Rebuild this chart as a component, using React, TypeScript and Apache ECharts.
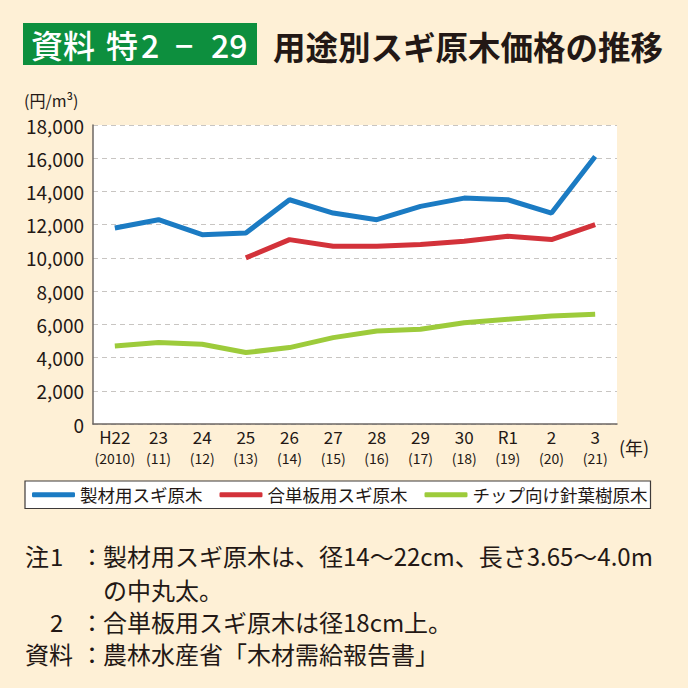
import React, { useEffect, useRef } from "react";
import * as echarts from "echarts";

const yearLabels = ["H22", "23", "24", "25", "26", "27", "28", "29", "30", "R1", "2", "3"];
const westernLabels = ["2010", "11", "12", "13", "14", "15", "16", "17", "18", "19", "20", "21"];
const seriesNames = ["製材用スギ原木", "合単板用スギ原木", "チップ向け針葉樹原木"];
const sawlog = [11800, 12300, 11400, 11500, 13500, 12700, 12300, 13100, 13600, 13500, 12700, 16100];
const plywood = [null, null, null, 10000, 11100, 10700, 10700, 10800, 11000, 11300, 11100, 12000];
const chip = [4700, 4900, 4800, 4300, 4600, 5200, 5600, 5700, 6100, 6300, 6500, 6600];
const colors = ["#1b7bc3", "#d3323a", "#9dcb3b"];

const JP = "'Noto Sans CJK JP', sans-serif";
const NUM = "'Noto Sans CJK JP', sans-serif";
const INK = "#231815";

export default function App() {
  const ref = useRef<HTMLDivElement>(null);
  useEffect(() => {
    document.body.style.margin = "0";
    const chart = echarts.init(ref.current!, null, { renderer: "svg" });
    const categories = yearLabels.map((y, i) => `{a|${y}}\n{b|(${westernLabels[i]})}`);
    const mk = (name: string, data: (number | null)[], color: string) => ({
      name,
      type: "line",
      data,
      symbol: "none",
      lineStyle: { width: 5, color },
      itemStyle: { color },
      connectNulls: false,
    });
    const t = (text: string, x: number, y: number, font: string, fill = INK) => ({
      type: "text",
      x,
      y,
      style: { text, fill, font, textVerticalAlign: "middle" },
    });
    const note = `24px ${JP}`;
    chart.setOption({
      animation: false,
      backgroundColor: "#fef0d6",
      grid: { left: 93, right: 71, top: 125, bottom: 264, containLabel: false, show: true, backgroundColor: "#ffffff", borderWidth: 0 },
      xAxis: {
        type: "category",
        data: categories,
        boundaryGap: true,
        axisLine: { lineStyle: { color: "#6d6763", width: 1.5 } },
        axisTick: { inside: true, length: 8, lineStyle: { color: "#6d6763", width: 1.5 } },
        axisLabel: {
          interval: 0,
          hideOverlap: false,
          margin: 2,
          rich: {
            a: { color: INK, fontSize: 17, lineHeight: 21, fontFamily: NUM },
            b: { color: INK, fontSize: 14, lineHeight: 21, fontFamily: NUM },
          },
        },
      },
      yAxis: {
        type: "value",
        min: 0,
        max: 18000,
        interval: 2000,
        axisLine: { show: true, lineStyle: { color: "#6d6763", width: 1.5 } },
        axisTick: { show: false },
        splitLine: { lineStyle: { color: "#c8c5c2", type: [5, 4], width: 1.2 } },
        axisLabel: {
          color: INK,
          fontSize: 19,
          fontFamily: NUM,
          margin: 9,
          formatter: (v: number) => v.toLocaleString("en-US"),
        },
      },
      legend: {
        left: 25,
        top: 481,
        itemWidth: 43,
        itemHeight: 5,
        itemGap: 17,
        icon: "roundRect",
        padding: [5, 3, 5, 7],
        borderColor: "#3e3a39",
        borderWidth: 1.2,
        backgroundColor: "#ffffff",
        textStyle: { color: INK, fontSize: 17.5, fontFamily: JP },
        data: seriesNames,
      },
      series: [mk(seriesNames[0], sawlog, colors[0]), mk(seriesNames[1], plywood, colors[1]), mk(seriesNames[2], chip, colors[2])],
      graphic: [
        { type: "rect", shape: { x: 23, y: 23, width: 234, height: 42 }, style: { fill: "#0d8f3e" } },
        t("資料", 31, 44, `500 32px ${JP}`, "#ffffff"),
        t("特", 106, 44, `500 32px ${JP}`, "#ffffff"),
        t("2", 141, 44, `500 32px ${JP}`, "#ffffff"),
        t("−", 175, 44, `500 32px ${JP}`, "#ffffff"),
        t("29", 211, 44, `500 32px ${JP}`, "#ffffff"),
        t("用途別スギ原木価格の推移", 273, 45, `bold 32.5px ${JP}`),
        t("(円/m³)", 24, 100, `16px ${JP}`),
        t("(年)", 619, 447, `18px ${JP}`),
        t("注", 25, 555, note),
        t("1", 50, 555, note),
        t("：", 80, 555, note),
        t("製材用スギ原木は、径14～22cm、長さ3.65～4.0m", 103, 555, note),
        t("の中丸太。", 103, 589, note),
        t("2", 50, 621, note),
        t("：", 80, 621, note),
        t("合単板用スギ原木は径18cm上。", 103, 621, note),
        t("資料", 25, 653, note),
        t("：", 80, 653, note),
        t("農林水産省「木材需給報告書」", 103, 653, note),
      ],
    });
    return () => chart.dispose();
  }, []);
  return <div ref={ref} style={{ width: 688, height: 688 }} />;
}
